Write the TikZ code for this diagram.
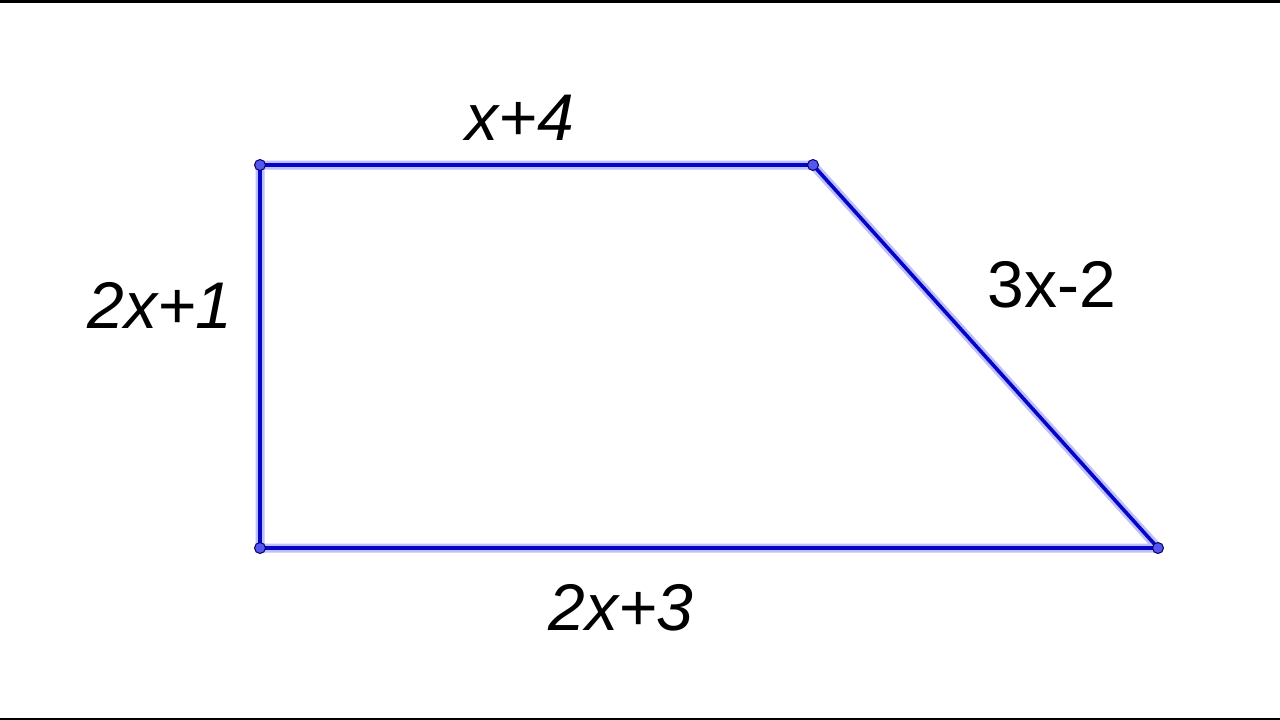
\documentclass[tikz,border=0pt]{standalone}
\usepackage{fontspec}
\setmainfont{Liberation Sans}
\definecolor{segblue}{RGB}{5,5,200}
\definecolor{haloblue}{RGB}{175,175,250}
\definecolor{ptblue}{RGB}{85,85,240}
\tikzset{
  side/.style={draw=segblue, line width=3.6pt, line join=round},
  glow/.style={draw=haloblue, line width=9pt, opacity=0.8, line join=round},
  vertex/.style={circle, fill=ptblue, draw=segblue!50!black, line width=1pt, minimum size=11pt, inner sep=0pt},
  lbl/.style={font=\fontsize{66}{72}\selectfont\itshape, inner sep=0pt},
  lblup/.style={font=\fontsize{66}{72}\selectfont, inner sep=0pt}
}
\begin{document}
\begin{tikzpicture}[x=1pt, y=-1pt]
 \useasboundingbox (0,0) rectangle (1280,720);
 \fill[black] (0,0) rectangle (1280,2.5);
 \fill[black] (0,717.5) rectangle (1280,720);

 \coordinate (a) at (260, 165);
 \coordinate (b) at (813, 165);
 \coordinate (c) at (1158, 548);
 \coordinate (d) at (260, 548);

 \path[glow] (a) -- (b) -- (c) -- (d) -- cycle;
 \path[side] (a) -- (b) -- (c) -- (d) -- cycle;

 \node[vertex] (pa) at (a) {};
 \node[vertex] (pb) at (b) {};
 \node[vertex] (pc) at (c) {};
 \node[vertex] (pd) at (d) {};

 \node[lbl]   (top)    at (520, 118) {x+4};
 \node[lbl]   (left)   at (160, 305) {2x+1};
 \node[lblup] (slant)  at (1052, 285) {3x-2};
 \node[lbl]   (bottom) at (621, 608) {2x+3};
\end{tikzpicture}
\end{document}
